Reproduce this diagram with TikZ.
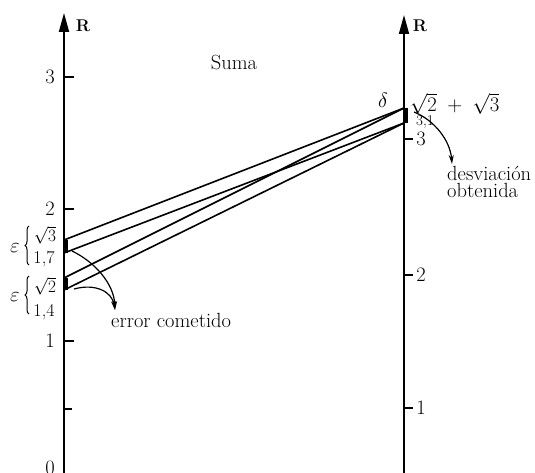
\documentclass[tikz,border=0pt]{standalone}
\usetikzlibrary{arrows.meta,decorations.pathreplacing}
\begin{document}
\begin{tikzpicture}[x=1pt,y=-1pt,
  axis/.style={line width=1.8pt,-{Triangle[length=19pt,width=10pt]}},
  tick/.style={line width=1.5pt},
  seg/.style={line width=1.6pt},
  thickmark/.style={line width=4.5pt},
  lbl/.style={inner sep=0pt,font=\fontsize{20.5}{18}\selectfont},
  curv/.style={line width=1.2pt,-{Stealth[length=9pt,width=5pt]}},
  brc/.style={decorate,decoration={brace,amplitude=4pt},line width=1pt}]
\useasboundingbox (0,0) rectangle (535,473);
% axes
\coordinate (lb) at (64,480); \coordinate (lt) at (64,13);
\coordinate (rb) at (404,480); \coordinate (rt) at (404,15);
\draw[axis] (lb) -- (lt);
\draw[axis] (rb) -- (rt);
\node[lbl,font=\fontsize{17}{17}\selectfont\bfseries] (lR) at (83,26) {R};
\node[lbl,font=\fontsize{17}{17}\selectfont\bfseries] (rR) at (420,26) {R};
% left ticks
\foreach \y/\t/\n in {77/3/a,209/2/b,341/1/c} {
  \coordinate (lt\n) at (64,\y); \coordinate (lte\n) at (74,\y);
  \draw[tick] (lt\n) -- (lte\n);
  \node[lbl] (ltl\n) at (50,\y) {\t};
}
\coordinate (ltd) at (64,409); \coordinate (lted) at (72,409);
\draw[tick] (ltd) -- (lted);
\node[lbl,anchor=north] (l0) at (50,461) {0};
% right ticks
\foreach \y/\t/\n in {139/3/a,275/2/b,408/1/c} {
  \coordinate (rt\n) at (404,\y); \coordinate (rte\n) at (413,\y);
  \draw[tick] (rt\n) -- (rte\n);
  \node[lbl] (rtl\n) at (421,\y) {\t};
}
% points
\coordinate (s3) at (64,240);
\coordinate (s17) at (64,253);
\coordinate (s2) at (64,278);
\coordinate (s14) at (64,290);
\coordinate (sum) at (404,108);
\coordinate (s31) at (404,123);
% connecting lines
\draw[seg] (s3) -- (sum);
\draw[seg] (s2) -- (sum);
\draw[seg] (s17) -- (s31);
\draw[seg] (s14) -- (s31);
% thick marks
\draw[thickmark] ([xshift=2pt]s3) -- ([xshift=2pt]s17);
\draw[thickmark] ([xshift=2pt]s2) -- ([xshift=2pt]s14);
\draw[thickmark] ([xshift=2pt]sum) -- ([xshift=2pt]s31);
% left labels
\node[lbl,font=\fontsize{19}{19}\selectfont] (lsq3) at (45,235) {$\sqrt{3}$};
\node[lbl,font=\fontsize{18}{18}\selectfont] (l17) at (44,259) {1,7};
\node[lbl,font=\fontsize{19}{19}\selectfont] (lsq2) at (45,286) {$\sqrt{2}$};
\node[lbl,font=\fontsize{18}{18}\selectfont] (l14) at (44,312) {1,4};
\coordinate (b1t) at (29,226); \coordinate (b1b) at (29,265);
\coordinate (b2t) at (29,276); \coordinate (b2b) at (29,314);
\draw[brc] (b1b) -- (b1t);
\draw[brc] (b2b) -- (b2t);
\node[lbl] (e1) at (15,248) {$\varepsilon$};
\node[lbl] (e2) at (15,297) {$\varepsilon$};
% right labels
\node[lbl] (delta) at (383,100) {$\delta$};
\node[lbl,anchor=west] (sumlbl) at (410,104) {$\sqrt{2}\;+\;\sqrt{3}$};
\node[lbl,font=\fontsize{15}{15}\selectfont] (l31) at (425,122) {3,1};
\node[lbl] (suma) at (234,63) {Suma};
% error arrows
\coordinate (ea1) at (72,251);
\coordinate (ea2) at (74,289);
\coordinate (etip) at (115,310);
\draw[curv] (ea1) .. controls (95,262) and (114,284) .. (etip);
\draw[curv] (ea2) .. controls (96,283) and (112,292) .. (etip);
\node[lbl,anchor=north west] (err) at (111,313) {error cometido};
% deviation arrow
\coordinate (da) at (414,112);
\coordinate (dtip) at (452,164);
\draw[curv] (da) .. controls (434,120) and (450,140) .. (dtip);
\node[lbl,anchor=north west,align=left,font=\fontsize{20.5}{17.5}\selectfont] (dev) at (447,166) {desviaci\'on\\obtenida};
\end{tikzpicture}
\end{document}
